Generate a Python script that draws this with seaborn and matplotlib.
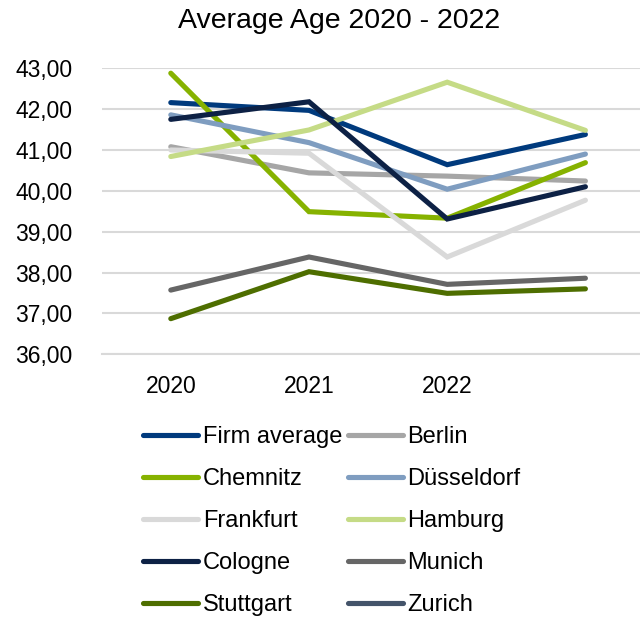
import numpy as np
import pandas as pd
import matplotlib
matplotlib.use("Agg")
import matplotlib.pyplot as plt
from matplotlib.lines import Line2D
from matplotlib.ticker import FuncFormatter, FixedLocator
import seaborn as sns

categories = ["2020", "2021", "2022", ""]
series_names = ["Firm average", "Berlin", "Chemnitz", "Düsseldorf", "Frankfurt",
                "Hamburg", "Cologne", "Munich", "Stuttgart", "Zurich"]
firm_average = [42.16, 41.97, 40.64, 41.38]
berlin = [41.08, 40.44, 40.36, 40.24]
chemnitz = [42.88, 39.49, 39.33, 40.69]
duesseldorf = [41.86, 41.18, 40.04, 40.90]
frankfurt = [41.00, 40.92, 38.38, 39.77]
hamburg = [40.84, 41.49, 42.66, 41.48]
cologne = [41.75, 42.18, 39.31, 40.10]
munich = [37.57, 38.38, 37.71, 37.86]
stuttgart = [36.87, 38.02, 37.49, 37.60]
zurich = [np.nan, np.nan, np.nan, np.nan]

colors = ["#003A7D", "#A6A6A6", "#86B200", "#7F9DC0", "#D9D9D9",
          "#C5DB86", "#0D2145", "#666666", "#4E6E00", "#44546A"]

all_values = [firm_average, berlin, chemnitz, duesseldorf, frankfurt,
              hamburg, cologne, munich, stuttgart, zurich]
rows = []
for name, vals in zip(series_names, all_values):
    for i, v in enumerate(vals):
        rows.append({"series": name, "pos": i, "value": v})
df = pd.DataFrame(rows)

sns.set_theme(style="white")
plt.rcParams["font.family"] = ["Liberation Sans", "DejaVu Sans"]
plt.rcParams["text.color"] = "black"
plt.rcParams["xtick.color"] = "black"
plt.rcParams["ytick.color"] = "black"

fig = plt.figure(figsize=(6.4, 6.17), dpi=100)
ax = fig.add_axes([101.7 / 640, 1 - 354.2 / 617, (654.5 - 101.7) / 640, (354.2 - 68.3) / 617])

palette = dict(zip(series_names, colors))
plot_df = df.dropna()
sns.lineplot(data=plot_df, x="pos", y="value", hue="series",
             hue_order=[s for s in series_names if s in plot_df["series"].unique()],
             palette=palette, linewidth=3.7, sort=False, legend=False, ax=ax)
for ln in ax.get_lines():
    ln.set_solid_capstyle("round")
    ln.set_solid_joinstyle("miter")

ax.set_xlim(-0.5, 3.5)
ax.set_ylim(36, 43)
ax.set_yticks(np.arange(36, 43.01, 1))
ax.yaxis.set_major_formatter(FuncFormatter(lambda v, p: f"{v:.2f}".replace(".", ",")))
ax.set_xticks(range(len(categories)))
ax.set_xticklabels(categories)
ax.xaxis.set_minor_locator(FixedLocator([-0.5, 0.5, 1.5, 2.5, 3.5]))
ax.tick_params(axis="x", which="major", length=0, labelsize=16.5, pad=15, labelcolor="black")
ax.tick_params(axis="x", which="minor", length=6, width=1.5, color="#D9D9D9", direction="out")
ax.tick_params(axis="y", length=0, labelsize=16.5, pad=21, labelcolor="black")
ax.grid(axis="y", color="#D9D9D9", linewidth=1.5)
ax.set_axisbelow(True)
for s in ["top", "right", "left"]:
    ax.spines[s].set_visible(False)
ax.spines["bottom"].set_color("#D9D9D9")
ax.spines["bottom"].set_linewidth(1.5)
ax.set_xlabel("")
ax.set_ylabel("")

fig.text(339.5 / 640, 1 - 28.3 / 617, "Average Age 2020 - 2022", ha="center",
         va="baseline", fontsize=20.5, color="black")

handles = [Line2D([0], [0], color=c, linewidth=3.7, solid_capstyle="round") for c in colors]
order = [0, 2, 4, 6, 8, 1, 3, 5, 7, 9]
fig.legend([handles[i] for i in order], [series_names[i] for i in order],
           loc="upper left", bbox_to_anchor=(143.3 / 640, 1 - 425.8 / 617),
           ncol=2, frameon=False, fontsize=17, handlelength=2.33, handletextpad=0.19,
           columnspacing=0.24, labelspacing=0.85, borderpad=0, borderaxespad=0)

fig.savefig("out.png", dpi=100)
